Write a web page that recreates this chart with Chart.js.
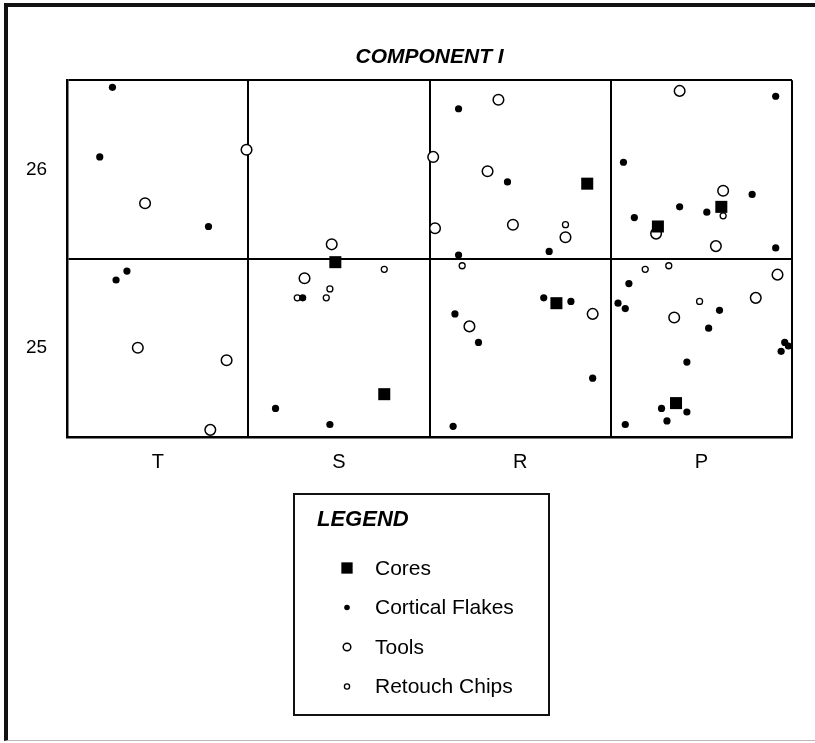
<!DOCTYPE html>
<html>
<head>
<meta charset="utf-8">
<script src="https://cdn.jsdelivr.net/npm/chart.js@4"></script>
<style>
  html, body { margin: 0; padding: 0; background: #fff; }
  #wrap { position: relative; width: 815px; height: 743px; }
  #frame { position: absolute; left: 4px; top: 3px; right: -10px; bottom: 2px;
           border-left: 4px solid #111; border-top: 4px solid #111; border-bottom: 1px solid #bbb;
           pointer-events: none; }
</style>
</head>
<body>
<div id="wrap">
  <canvas id="myChart" width="815" height="743"></canvas>
  <div id="frame"></div>
</div>
<script>
// zones along the x axis, each one grid unit wide (T = 0..1, S = 1..2 ...)
var zones = ['T', 'S', 'R', 'P'];
var zoneTicks = [0.5, 1.5, 2.5, 3.5];
var levelTicks = [25, 26];

var coresX = [1.48, 1.75, 2.87, 2.70, 3.61, 3.26, 3.36];
var coresY = [25.48, 24.74, 25.92, 25.25, 25.79, 25.68, 24.69];

var flakesX = [0.25, 0.18, 0.78, 0.33, 0.27,
               1.30, 1.15, 1.45,
               2.16, 2.43, 2.66, 2.16, 2.63, 2.78, 2.14, 2.27, 2.90, 2.13,
               3.91, 3.07, 3.78, 3.38, 3.53, 3.13, 3.91, 3.10, 3.04, 3.08,
               3.60, 3.54, 3.96, 3.98, 3.94, 3.42, 3.28, 3.42, 3.31, 3.08];
var flakesY = [26.46, 26.07, 25.68, 25.43, 25.38,
               25.28, 24.66, 24.57,
               26.34, 25.93, 25.54, 25.52, 25.28, 25.26, 25.19, 25.03, 24.83, 24.56,
               26.41, 26.04, 25.86, 25.79, 25.76, 25.73, 25.56, 25.36, 25.25, 25.22,
               25.21, 25.11, 25.03, 25.01, 24.98, 24.92, 24.66, 24.64, 24.59, 24.57];

var toolsX = [0.99, 0.43, 0.39, 0.88, 0.79,
              1.46, 1.31,
              2.02, 2.03, 2.38, 2.32, 2.46, 2.75, 2.22, 2.90,
              3.38, 3.62, 3.25, 3.58, 3.92, 3.80, 3.35];
var toolsY = [26.11, 25.81, 25.00, 24.93, 24.54,
              25.58, 25.39,
              26.07, 25.67, 26.39, 25.99, 25.69, 25.62, 25.12, 25.19,
              26.44, 25.88, 25.64, 25.57, 25.41, 25.28, 25.17];

var chipsX = [1.75, 1.45, 1.27, 1.43, 2.75, 2.18, 3.62, 3.19, 3.32, 3.49];
var chipsY = [25.44, 25.33, 25.28, 25.28, 25.69, 25.46, 25.74, 25.44, 25.46, 25.26];

function toPoints(xs, ys) {
  return xs.map(function (x, i) { return {x: x, y: ys[i]}; });
}

// boxed legend under the plot, drawn from the datasets themselves
var legendBox = {
  id: 'legendBox',
  afterDraw: function (chart, args, opts) {
    var ctx = chart.ctx;
    ctx.save();
    ctx.lineWidth = 2;
    ctx.strokeStyle = '#111';
    ctx.strokeRect(opts.left, opts.top, opts.width, opts.height);

    ctx.fillStyle = '#000';
    ctx.textBaseline = 'middle';
    ctx.font = 'italic bold 22px "Liberation Sans", Arial, sans-serif';
    ctx.fillText('LEGEND', opts.left + 23, opts.top + 26);

    ctx.font = '21px "Liberation Sans", Arial, sans-serif';
    chart.data.datasets.forEach(function (ds, i) {
      var y = opts.top + 74 + i * 39.5;
      ctx.fillStyle = ds.backgroundColor;
      ctx.strokeStyle = ds.borderColor;
      ctx.lineWidth = ds.borderWidth;
      Chart.helpers.drawPoint(ctx, {
        pointStyle: ds.pointStyle,
        radius: ds.legendRadius,
        borderWidth: ds.borderWidth,
        rotation: 0
      }, opts.left + 53, y);
      ctx.fillStyle = '#000';
      ctx.fillText(ds.label, opts.left + 81, y + 1);
    });
    ctx.restore();
  }
};

Chart.defaults.font.family = '"Liberation Sans", Arial, Helvetica, sans-serif';
Chart.defaults.color = '#000';

var ctx = document.getElementById('myChart').getContext('2d');
var myChart = new Chart(ctx, {
  type: 'scatter',
  data: {
    datasets: [{
        label: 'Cores',
        data: toPoints(coresX, coresY),
        pointStyle: 'rect',
        pointRadius: 8.5,
        legendRadius: 8,
        backgroundColor: '#000',
        borderColor: '#000',
        borderWidth: 0,
        clip: false
      }, {
        label: 'Cortical Flakes',
        data: toPoints(flakesX, flakesY),
        pointStyle: 'circle',
        pointRadius: 3.6,
        legendRadius: 2.8,
        backgroundColor: '#000',
        borderColor: '#000',
        borderWidth: 0,
        clip: false
      }, {
        label: 'Tools',
        data: toPoints(toolsX, toolsY),
        pointStyle: 'circle',
        pointRadius: 5.3,
        legendRadius: 3.8,
        backgroundColor: '#fff',
        borderColor: '#000',
        borderWidth: 1.5,
        clip: false
      }, {
        label: 'Retouch Chips',
        data: toPoints(chipsX, chipsY),
        pointStyle: 'circle',
        pointRadius: 3,
        legendRadius: 2.6,
        backgroundColor: '#fff',
        borderColor: '#000',
        borderWidth: 1.3,
        clip: false
      }
    ]
  },
  options: {
    responsive: false,
    animation: false,
    layout: {
      padding: {left: 6, right: 23, top: 45, bottom: 256}
    },
    plugins: {
      legend: { display: false },
      tooltip: { enabled: false },
      title: {
        display: true,
        fullSize: false,
        text: 'COMPONENT I',
        font: { size: 21, weight: 'bold', style: 'italic' },
        padding: { top: 0, bottom: 10 }
      },
      legendBox: { left: 294, top: 494, width: 255, height: 221 }
    },
    scales: {
      x: {
        type: 'linear',
        min: 0,
        max: 4,
        afterBuildTicks: function (axis) {
          axis.ticks = zoneTicks.map(function (v) { return {value: v}; });
        },
        ticks: {
          padding: 13,
          font: { size: 20 },
          callback: function (value) { return zones[Math.floor(value)]; }
        },
        grid: { offset: true, color: '#000', lineWidth: 2, drawTicks: false },
        border: { color: '#000', width: 2.5 }
      },
      y: {
        min: 24.5,
        max: 26.5,
        afterBuildTicks: function (axis) {
          axis.ticks = levelTicks.map(function (v) { return {value: v}; });
        },
        ticks: {
          padding: 20,
          font: { size: 19 }
        },
        grid: { offset: true, color: '#000', lineWidth: 2, drawTicks: false },
        border: { color: '#000', width: 2.5 }
      }
    }
  },
  plugins: [legendBox]
});
</script>
</body>
</html>
